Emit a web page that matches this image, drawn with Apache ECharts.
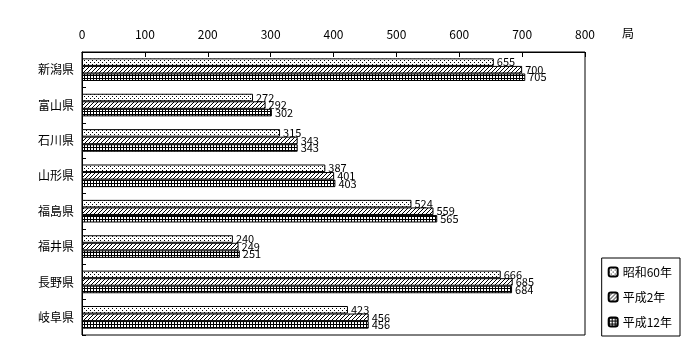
<!DOCTYPE html>
<html><head><meta charset="utf-8">
<script src="https://cdn.jsdelivr.net/npm/echarts@6/dist/echarts.min.js"></script>
<style>html,body{margin:0;padding:0;background:#fff}#c{width:700px;height:360px}</style>
</head><body><div id="c"></div>
<script>
const categories = ['新潟県','富山県','石川県','山形県','福島県','福井県','長野県','岐阜県'];
const seriesNames = ['昭和60年','平成2年','平成12年'];
const s60 = [655,272,315,387,524,240,666,423];
const h2  = [700,292,343,401,559,249,685,456];
const h12 = [705,302,343,403,565,251,684,456];
const xTicks = [0,100,200,300,400,500,600,700,800];

function pat(size, draw){
  const c = document.createElement('canvas'); c.width = size; c.height = size;
  const g = c.getContext('2d'); g.fillStyle = '#fff'; g.fillRect(0,0,size,size);
  g.fillStyle = '#000'; draw(g); return {image: c, repeat: 'repeat'};
}
const dots = pat(4, g => { g.fillRect(0,0,1,1); g.fillRect(2,2,1,1); });
const diag = pat(4, g => { g.fillRect(3,0,1,1); g.fillRect(2,1,1,1); g.fillRect(1,2,1,1); g.fillRect(0,3,1,1); });
const grid = pat(3, g => { g.fillRect(0,0,3,1); g.fillRect(0,0,1,3); });
const fills = [dots, diag, grid];
const datas = [s60, h2, h12];
const font = '"Noto Sans CJK JP", sans-serif';

const chart = echarts.init(document.getElementById('c'), null, {renderer:'canvas'});
chart.setOption({
  animation: false,
  textStyle: {fontFamily: font},
  grid: {left: 82, right: 115, top: 52, bottom: 25, show: true, borderColor: '#000', borderWidth: 1},
  legend: {
    orient: 'vertical', right: 20, top: 258, itemWidth: 9, itemHeight: 9, itemGap: 13,
    borderColor: '#000', borderWidth: 1, padding: [8, 8, 8, 6],
    textStyle: {fontSize: 12, color: '#000', fontFamily: font},
    data: seriesNames
  },
  xAxis: {
    type: 'value', position: 'top', min: 0, max: 800, interval: 100,
    name: '局', nameLocation: 'end', nameGap: 37,
    nameTextStyle: {fontSize: 12, color: '#000', verticalAlign: 'bottom', lineHeight: 12, padding: [0,0,13,0]},
    axisLine: {show: true, lineStyle: {color: '#000'}},
    axisTick: {show: true, inside: true, length: 5, lineStyle: {color: '#000'}},
    axisLabel: {color: '#000', fontSize: 12, margin: 12, formatter: v => xTicks.includes(v) ? String(v) : ''},
    splitLine: {show: false}
  },
  yAxis: {
    type: 'category', inverse: true, data: categories,
    axisLine: {show: true, lineStyle: {color: '#000'}},
    axisTick: {show: true, inside: true, length: 4, lineStyle: {color: '#000'}},
    axisLabel: {color: '#000', fontSize: 12, margin: 8}
  },
  series: seriesNames.map((n, i) => ({
    name: n, type: 'bar', data: datas[i], barGap: '0%', barCategoryGap: '36%',
    itemStyle: {color: fills[i], borderColor: '#000', borderWidth: 1},
    label: {show: true, position: 'right', distance: 3, color: '#000', fontSize: 11, fontFamily: font},
    emphasis: {disabled: true}
  }))
});
</script></body></html>
